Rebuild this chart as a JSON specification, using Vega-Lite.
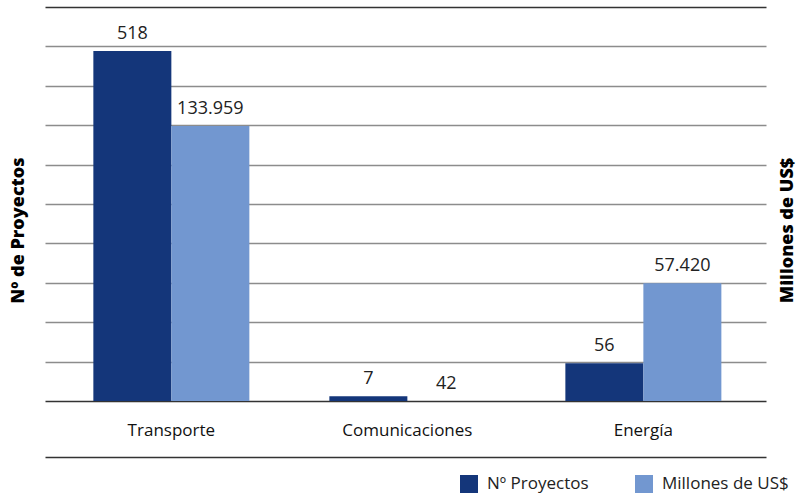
{
  "$schema": "https://vega.github.io/schema/vega-lite/v6.json",
  "width": 721,
  "height": 394,
  "autosize": {"type": "none"},
  "padding": {"left": 45, "top": 7, "right": 32, "bottom": 96},
  "background": "white",
  "config": {
    "view": {"stroke": null},
    "font": "Open Sans",
    "locale": {"number": {"decimal": ",", "thousands": ".", "grouping": [3], "currency": ["", "$"]}}
  },
  "data": {
    "values": [
      {"categoria": "Transporte", "serie": "Nº Proyectos", "valor": 518},
      {"categoria": "Transporte", "serie": "Millones de US$", "valor": 133959},
      {"categoria": "Comunicaciones", "serie": "Nº Proyectos", "valor": 7},
      {"categoria": "Comunicaciones", "serie": "Millones de US$", "valor": 42},
      {"categoria": "Energía", "serie": "Nº Proyectos", "valor": 56},
      {"categoria": "Energía", "serie": "Millones de US$", "valor": 57420}
    ]
  },
  "encoding": {
    "x": {
      "field": "categoria", "type": "nominal", "sort": ["Transporte", "Comunicaciones", "Energía"],
      "scale": {"paddingInner": 0.339, "paddingOuter": 0.197, "align": 0.52},
      "axis": {"title": null, "domain": true, "domainColor": "#333333", "domainWidth": 1.5, "offset": 56,
               "ticks": false, "labelAngle": 0, "labelFontSize": 17, "labelColor": "#111", "labelPadding": -35}
    },
    "xOffset": {
      "field": "serie", "type": "nominal",
      "scale": {"domain": ["Nº Proyectos", "Millones de US$"], "paddingInner": 0, "paddingOuter": 0}
    },
    "color": {
      "field": "serie", "type": "nominal",
      "scale": {"domain": ["Nº Proyectos", "Millones de US$"], "range": ["#14367A", "#7297D0"]},
      "legend": {
        "orient": "none", "legendX": 415, "legendY": 468, "direction": "horizontal",
        "title": null, "symbolType": "square", "symbolSize": 324, "symbolStrokeWidth": 0,
        "symbolOpacity": 1, "labelFontSize": 17, "labelColor": "#222", "labelOffset": 9,
        "columnPadding": 46, "labelLimit": 300
      }
    }
  },
  "layer": [
    {
      "transform": [{"filter": "datum.serie == 'Nº Proyectos'"}],
      "encoding": {
        "y": {
          "field": "valor", "type": "quantitative",
          "scale": {"domain": [0, 583], "nice": false, "zero": true},
          "axis": {
            "title": "Nº de Proyectos", "titleFontSize": 18, "titleFontWeight": 800, "titleColor": "#000",
            "titleAngle": 270, "titleX": -27, "titleY": 223, "titleBaseline": "middle", "titleAlign": "center",
            "labels": false, "ticks": false, "domain": false,
            "values": [0, 58.3, 116.6, 174.9, 233.2, 291.5, 349.8, 408.1, 466.4, 524.7, 583],
            "grid": true, "gridWidth": 1.3,
            "gridColor": {"condition": {"test": "datum.value == 0 || datum.value == 583", "value": "#333333"}, "value": "#8c8c8c"}
          }
        }
      },
      "layer": [
        {"mark": {"type": "bar"}},
        {
          "mark": {"type": "text", "dy": -12, "baseline": "alphabetic", "align": "center", "fontSize": 18, "color": "#222"},
          "encoding": {"text": {"field": "valor", "type": "quantitative", "format": ",d"}, "color": {"value": "#222"}}
        }
      ]
    },
    {
      "transform": [{"filter": "datum.serie == 'Millones de US$'"}],
      "encoding": {
        "y": {
          "field": "valor", "type": "quantitative",
          "scale": {"domain": [0, 192000], "nice": false, "zero": true},
          "axis": {
            "orient": "right", "title": "Millones de US$", "titleFontSize": 18, "titleFontWeight": 800, "titleColor": "#000",
            "titleAngle": 270, "titleX": 21, "titleY": 223, "titleBaseline": "middle", "titleAlign": "center",
            "labels": false, "ticks": false, "domain": false, "grid": false
          }
        }
      },
      "layer": [
        {"mark": {"type": "bar"}},
        {
          "mark": {"type": "text", "dy": -12, "baseline": "alphabetic", "align": "center", "fontSize": 18, "color": "#222"},
          "encoding": {"text": {"field": "valor", "type": "quantitative", "format": ",d"}, "color": {"value": "#222"}}
        }
      ]
    }
  ],
  "resolve": {"scale": {"y": "independent"}}
}
